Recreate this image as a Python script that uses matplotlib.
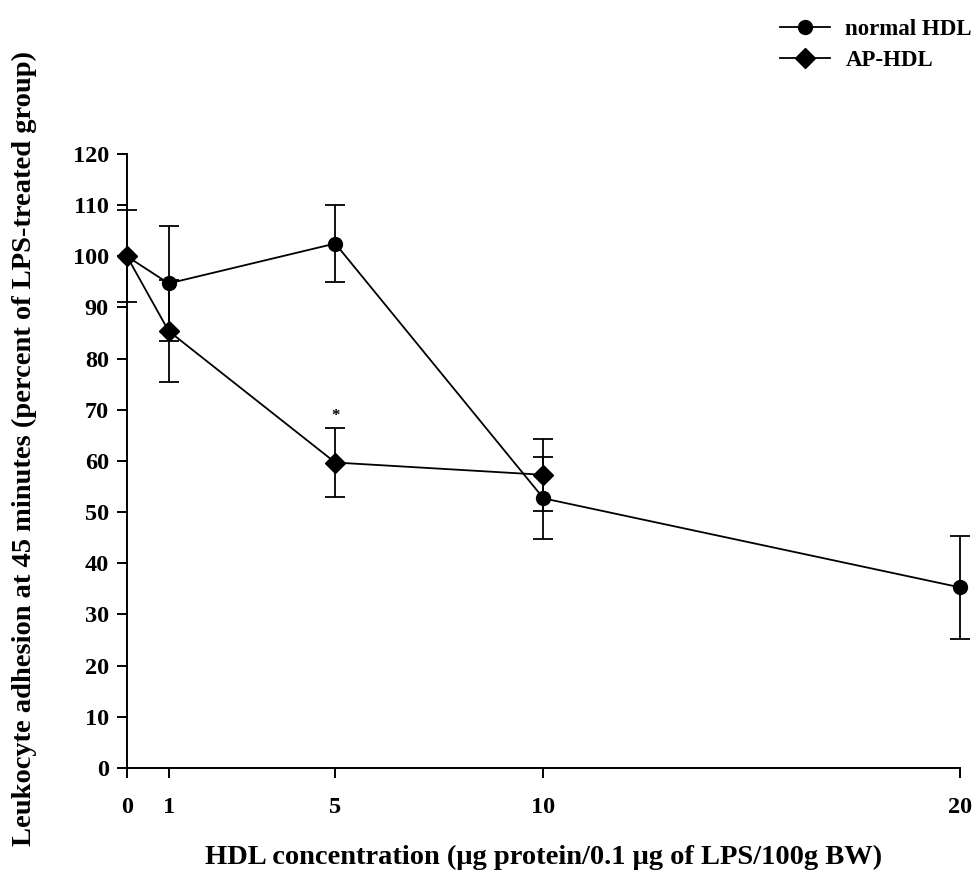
import matplotlib.pyplot as plt
import numpy as np

# data
conc = [0, 1, 5, 10, 20]
normal_hdl = [100, 94.7, 102.5, 52.7, 35.3]
normal_err = [0, 11.2, 7.5, 8.0, 10.0]
ap_conc = [0, 1, 5, 10]
ap_hdl = [100, 85.4, 59.7, 57.3]
ap_err = [9.0, 10.0, 6.7, 7.0]
star_x, star_y = 5, 68.8
yticks = list(range(0, 121, 10))

plt.rcParams['font.family'] = 'Liberation Serif'
plt.rcParams['font.weight'] = 'bold'

fig = plt.figure(figsize=(9.79, 8.73), dpi=100)
ax = fig.add_axes([0.1297, 0.1203, 0.8509, 0.7033])

ax.errorbar(conc, normal_hdl, yerr=normal_err, color='black', marker='o',
            markersize=10, linewidth=1.3, elinewidth=1.3, capsize=7,
            capthick=1.3, clip_on=False, label='normal HDL', zorder=3)
ax.errorbar(ap_conc, ap_hdl, yerr=ap_err, color='black', marker='D',
            markersize=10, linewidth=1.3, elinewidth=1.3, capsize=7,
            capthick=1.3, clip_on=False, label='AP-HDL', zorder=3)
ax.text(star_x, star_y, '*', ha='center', va='center', fontsize=12)

ax.set_xlim(0, 20)
ax.set_ylim(0, 120)
ax.set_xticks(conc)
ax.set_yticks(yticks)
ax.spines['top'].set_visible(False)
ax.spines['right'].set_visible(False)
ax.spines['left'].set_linewidth(1.4)
ax.spines['bottom'].set_linewidth(1.4)
ax.tick_params(direction='out', length=7, width=1.4, labelsize=17.5)
ax.tick_params(axis='x', pad=14)
ax.tick_params(axis='y', pad=6)

ax.set_xlabel('HDL concentration (\u03bcg protein/0.1 \u03bcg of LPS/100g BW)',
              fontsize=20.5, fontweight='bold', labelpad=19)
ax.set_ylabel('Leukocyte adhesion at 45 minutes (percent of LPS-treated group)',
              fontsize=20.5, fontweight='bold')
ax.yaxis.set_label_coords(-0.108, 0.52)

handles, labels = ax.get_legend_handles_labels()
handles = [h[0] for h in handles]
fig.legend(handles, labels, loc='upper left', bbox_to_anchor=(780 / 979, 1 - 19 / 873),
           frameon=False, handlelength=2.2, handletextpad=0.65,
           labelspacing=0.45, borderpad=0, borderaxespad=0,
           prop={'weight': 'bold', 'size': 16.5})

fig.savefig('out.png', dpi=100)
